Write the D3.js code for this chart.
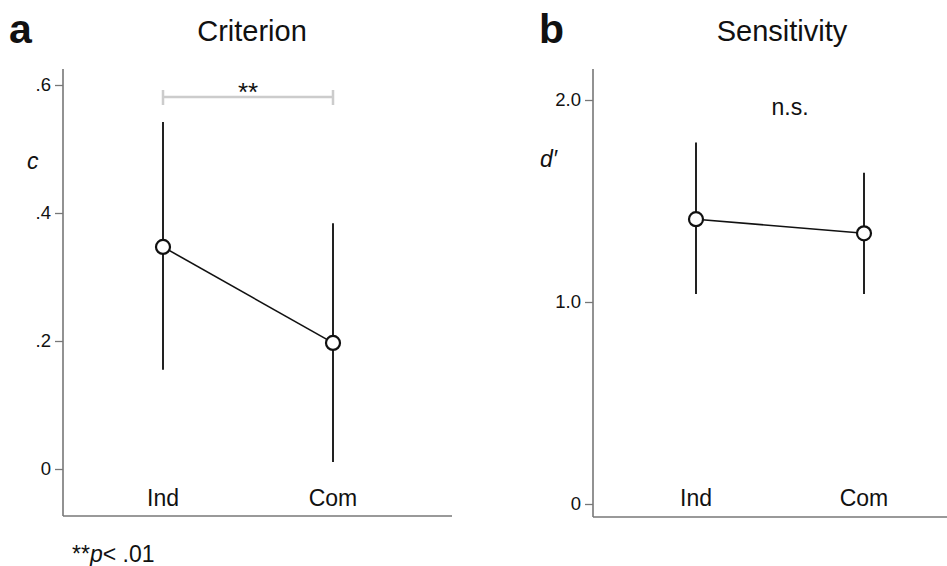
<!DOCTYPE html>
<meta charset="utf-8">
<script src="https://d3js.org/d3.v7.min.js"></script>
<style>
  body { margin: 0; background: #fff; }
  text { font-family: "Liberation Sans", Arial, sans-serif; fill: #111; }
</style>
<div id="my_dataviz"></div>
<script>
  // data
  const conditions = ["Ind", "Com"];
  const criterionMean = [0.347, 0.197];
  const criterionLow = [0.155, 0.011];
  const criterionHigh = [0.542, 0.384];
  const criterionTicks = [0, 0.2, 0.4, 0.6];
  const criterionTickLabels = ["0", ".2", ".4", ".6"];

  const sensMean = [1.41, 1.34];
  const sensLow = [1.04, 1.04];
  const sensHigh = [1.79, 1.64];
  const sensTicks = [0, 1, 2];
  const sensTickLabels = ["0", "1.0", "2.0"];

  const svg = d3.select("#my_dataviz")
    .append("svg")
      .attr("width", 947)
      .attr("height", 566);

  function panel(opt) {
    const g = svg.append("g");
    const x = d3.scalePoint().domain(conditions).range(opt.xr);
    const y = d3.scaleLinear().domain(opt.domain).range(opt.yr);

    // axis lines
    g.append("line")
      .attr("x1", opt.axisX).attr("x2", opt.axisX)
      .attr("y1", 69).attr("y2", opt.axisBottom)
      .attr("stroke", "#777").attr("stroke-width", 1.6);
    g.append("line")
      .attr("x1", opt.axisX).attr("x2", opt.axisRight)
      .attr("y1", opt.axisBottom).attr("y2", opt.axisBottom)
      .attr("stroke", "#777").attr("stroke-width", 1.6);

    // y ticks
    const ax = g.append("g")
      .attr("transform", `translate(${opt.axisX},0)`)
      .call(d3.axisLeft(y).tickValues(opt.ticks)
        .tickFormat((d, i) => opt.tickLabels[i])
        .tickSize(8).tickPadding(4));
    ax.select(".domain").remove();
    ax.selectAll(".tick line").attr("stroke", "#777").attr("stroke-width", 1.3);
    ax.selectAll(".tick text")
      .attr("font-family", "Liberation Sans, Arial, sans-serif")
      .attr("font-size", 18.5).attr("fill", "#111");

    // category labels
    g.selectAll(".cat").data(conditions).enter()
      .append("text")
      .attr("x", d => x(d))
      .attr("y", 506)
      .attr("text-anchor", "middle")
      .attr("font-size", 23)
      .text(d => d);

    // error bars
    g.selectAll(".err").data(conditions).enter()
      .append("line")
      .attr("x1", d => x(d)).attr("x2", d => x(d))
      .attr("y1", (d, i) => y(opt.low[i]))
      .attr("y2", (d, i) => y(opt.high[i]))
      .attr("stroke", "#222").attr("stroke-width", 2);

    // connecting line
    g.append("path")
      .datum(opt.mean)
      .attr("fill", "none")
      .attr("stroke", "#111")
      .attr("stroke-width", 1.6)
      .attr("d", d3.line()
        .x((d, i) => x(conditions[i]))
        .y(d => y(d)));

    // points
    g.selectAll("circle").data(opt.mean).enter()
      .append("circle")
      .attr("cx", (d, i) => x(conditions[i]))
      .attr("cy", d => y(d))
      .attr("r", 7)
      .attr("fill", "#fff")
      .attr("stroke", "#111")
      .attr("stroke-width", 2.2);

    // titles
    g.append("text").attr("x", opt.letterX).attr("y", 43)
      .attr("font-size", 41).attr("font-weight", "bold").text(opt.letter);
    g.append("text").attr("x", opt.titleX).attr("y", 41)
      .attr("text-anchor", "middle").attr("font-size", 29).text(opt.title);

    return { g, x, y };
  }

  const a = panel({
    xr: [163, 333], domain: [0, 0.6], yr: [469, 85],
    axisX: 63, axisBottom: 516, axisRight: 452,
    ticks: criterionTicks, tickLabels: criterionTickLabels,
    mean: criterionMean, low: criterionLow, high: criterionHigh,
    letter: "a", letterX: 9, title: "Criterion", titleX: 252
  });

  // y label c
  a.g.append("text").attr("x", 27).attr("y", 169)
    .attr("font-size", 23).attr("font-style", "italic").text("c");

  // significance bracket
  const by = 97;
  a.g.append("path")
    .attr("d", `M${a.x("Ind")},${by - 7}V${by + 8}M${a.x("Ind")},${by}H${a.x("Com")}M${a.x("Com")},${by - 7}V${by + 8}`)
    .attr("fill", "none").attr("stroke", "#ccc").attr("stroke-width", 2.5);
  a.g.append("text").attr("x", (a.x("Ind") + a.x("Com")) / 2).attr("y", 101)
    .attr("text-anchor", "middle").attr("font-size", 26).text("**");

  // footnote
  const foot = svg.append("text").attr("x", 72).attr("y", 562).attr("font-size", 23);
  foot.append("tspan").text("**");
  foot.append("tspan").attr("font-style", "italic").text("p");
  foot.append("tspan").text("< .01");

  const b = panel({
    xr: [696, 864], domain: [0, 2], yr: [504, 100],
    axisX: 593, axisBottom: 517, axisRight: 947,
    ticks: sensTicks, tickLabels: sensTickLabels,
    mean: sensMean, low: sensLow, high: sensHigh,
    letter: "b", letterX: 539, title: "Sensitivity", titleX: 782
  });

  b.g.append("text").attr("x", 540).attr("y", 167)
    .attr("font-size", 23).attr("font-style", "italic").text("d\u2032");
  b.g.append("text").attr("x", 790).attr("y", 115)
    .attr("text-anchor", "middle").attr("font-size", 23).text("n.s.");
</script>
